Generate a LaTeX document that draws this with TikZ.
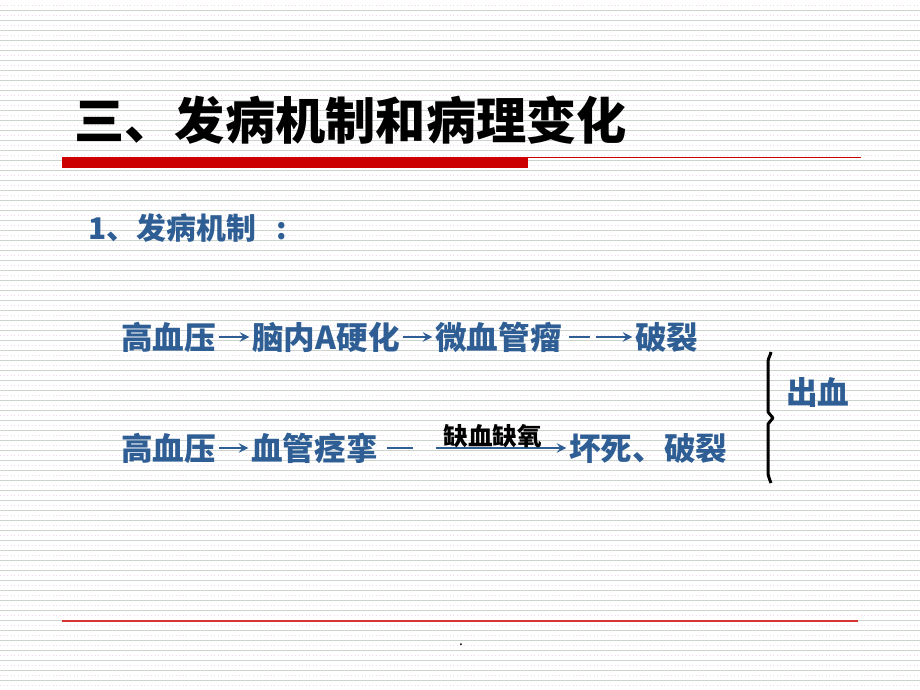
\documentclass[tikz,border=0pt]{standalone}
\usepackage{fontspec}
\newfontfamily\cjk{Noto Sans CJK SC}
\definecolor{txtblue}{RGB}{46,94,148}
\definecolor{barred}{RGB}{204,0,0}
\definecolor{bggray}{RGB}{205,212,205}
\definecolor{bgpink}{RGB}{236,215,236}
\tikzset{
  term/.style={anchor=west,inner sep=0pt,text=txtblue,font=\cjk\bfseries\fontsize{18}{18}\selectfont},
  link/.style={->,txtblue,line width=1.4pt,shorten <=1.5pt,shorten >=1.5pt},
}
\begin{document}
\begin{tikzpicture}[>=stealth,x=0.02cm,y=-0.02cm]
	\useasboundingbox (0,0) rectangle (920,690);
	\fill[white] (0,0) rectangle (920,690);
	% lined paper
	\foreach \y in {10,20,...,680} \draw[bggray,line width=0.45pt] (0,\y) -- (920,\y);
	\foreach \y in {5,15,...,685} \draw[bgpink,line width=0.4pt,dash pattern=on 0.5pt off 1.5pt] (0,\y) -- (920,\y);
	% title
	\node[anchor=west,inner sep=0pt,font=\cjk\bfseries\fontsize{28.6}{28.6}\selectfont] (title) at (74,120) {三、发病机制和病理变化};
	\fill[barred] (62,157) rectangle (528,168);
	\draw[barred,line width=0.9pt] (528,157.5) -- (861,157.5);
	\node[term,font=\cjk\bfseries\fontsize{17}{17}\selectfont] (sub) at (88,228) {1、发病机制\hspace{0.7em}:};
	% first chain
	\node[term] (a1) at (121,337) {高血压};
	\node[term] (a2) at (252,337) {脑内A硬化};
	\node[term] (a3) at (435,337) {微血管瘤};
	\node[term] (a4) at (635,337) {破裂};
	\draw[link] (a1) -- (a2);
	\draw[link] (a2) -- (a3);
	\draw[link,shorten <=4pt,dash pattern=on 12pt off 3.5pt on 40pt] (a3) -- (a4);
	% second chain
	\node[term] (b1) at (121,448) {高血压};
	\node[term] (b2) at (251,448) {血管痉挛};
	\node[term] (b3) at (569,448) {坏死、破裂};
	\draw[link] (b1) -- (b2);
	\draw[link,shorten <=5pt,dash pattern=on 15pt off 13pt on 120pt] (b2) -- (b3)
		node[pos=0.6,above,inner sep=0pt,yshift=-0.5pt,text=black,font=\cjk\bfseries\fontsize{14}{14}\selectfont] (lack) {缺血缺氧};
	% brace and result
	\draw[line width=1.7pt,line join=round] (771,352) to[out=-100,in=90] (768,362) -- (768,412) -- (773,418) -- (768,424) -- (768,474) to[out=-90,in=100] (771,483);
	\node[term] (bleed) at (786,392) {出血};
	% footer
	\draw[barred!80,line width=1.1pt] (62,621) -- (858,621);
	\node[inner sep=0pt,font=\cjk\fontsize{8}{8}\selectfont] (dot) at (461,645) {.};
\end{tikzpicture}
\end{document}
